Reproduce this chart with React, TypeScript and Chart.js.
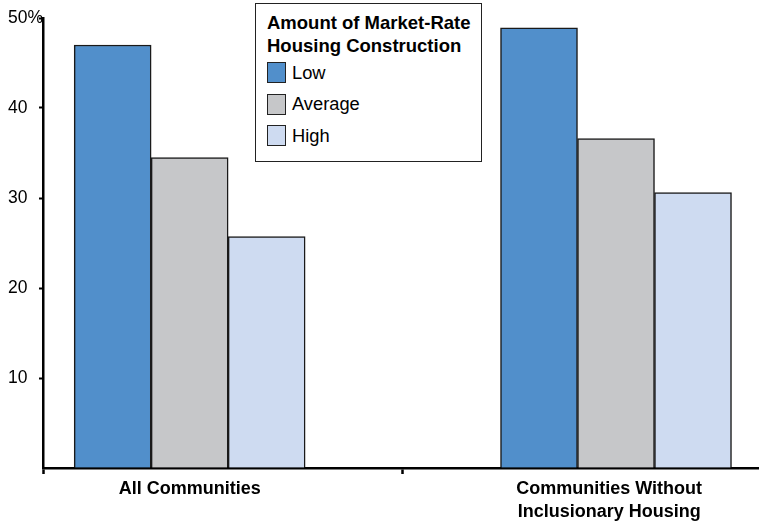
import React, { useEffect, useRef } from "react";
import { Chart, registerables } from "chart.js";

Chart.register(...registerables);

const categories: (string | string[])[] = [
  "All Communities",
  ["Communities Without", "Inclusionary Housing"],
];
const seriesNames = ["Low", "Average", "High"];
const lowValues = [47.0, 48.9];
const averageValues = [34.5, 36.6];
const highValues = [25.7, 30.6];
const yTickLabels: Record<number, string> = { 10: "10", 20: "20", 30: "30", 40: "40", 50: "50%" };
const legendTitle = ["Amount of Market-Rate", "Housing Construction"];

const colors = ["#518FCB", "#C6C7C9", "#CEDBF1"];
const FONT = "'Liberation Sans', Arial, Helvetica, sans-serif";

const X_MIN = -0.344;
const X_MAX = 1.3354;
const LABEL_POS = [0, 0.984];

export default function App() {
  const ref = useRef<HTMLCanvasElement>(null);

  useEffect(() => {
    const seriesValues = [lowValues, averageValues, highValues];
    const chart = new Chart(ref.current!, {
      type: "bar",
      data: {
        datasets: seriesNames.map((name, i) => ({
          label: name,
          data: seriesValues[i].map((v, j) => ({ x: j, y: v })),
          backgroundColor: colors[i],
          borderColor: "#1a1a1a",
          borderWidth: 1.5,
          borderSkipped: "bottom" as const,
          barThickness: 77,
        })),
      },
      options: {
        animation: false,
        responsive: false,
        layout: { padding: { left: 8, top: 18, right: 0, bottom: 0 } },
        plugins: { legend: { display: false }, tooltip: { enabled: false } },
        scales: {
          x: {
            type: "linear",
            min: X_MIN,
            max: X_MAX,
            offset: false,
            afterBuildTicks: (scale: any) => {
              scale.ticks = [
                { value: X_MIN },
                { value: LABEL_POS[0] },
                { value: 0.5 },
                { value: LABEL_POS[1] },
              ];
            },
            afterFit: (scale: any) => {
              scale.height = 59;
            },
            grid: {
              offset: false,
              drawOnChartArea: false,
              drawTicks: true,
              tickLength: 6,
              tickWidth: 2.5,
              tickColor: (ctx: any) =>
                ctx.tick && LABEL_POS.includes(ctx.tick.value) ? "rgba(0,0,0,0)" : "#000",
            },
            border: { display: true, color: "#000", width: 2.5 },
            ticks: {
              autoSkip: false,
              maxRotation: 0,
              padding: 3,
              color: "#000",
              font: { family: FONT, size: 18, weight: "bold", lineHeight: 1.3 },
              callback: (v: any) => {
                const idx = LABEL_POS.indexOf(Number(v));
                return idx >= 0 ? (categories[idx] as any) : "";
              },
            },
          },
          y: {
            min: 0,
            max: 50,
            afterFit: (scale: any) => {
              scale.width = 35;
            },
            grid: {
              drawOnChartArea: false,
              drawTicks: true,
              tickLength: 4,
              tickWidth: 2,
              tickColor: (ctx: any) => (ctx.tick && ctx.tick.value === 0 ? "rgba(0,0,0,0)" : "#000"),
            },
            border: { display: true, color: "#000", width: 2.5 },
            ticks: {
              stepSize: 10,
              crossAlign: "far",
              padding: 4,
              color: "#000",
              font: { family: FONT, size: 17.5 },
              callback: (v: any) => yTickLabels[Number(v)] ?? "",
            },
          },
        },
      },
    });
    return () => chart.destroy();
  }, []);

  return (
    <div style={{ position: "fixed", left: 0, top: 0, width: 759, height: 527, background: "#fff" }}>
      <canvas ref={ref} width={759} height={527} style={{ width: 759, height: 527, display: "block" }} />
      <div
        style={{
          position: "absolute",
          left: 255,
          top: 3,
          width: 227,
          height: 159,
          boxSizing: "border-box",
          border: "1.5px solid #222",
          background: "#fff",
          fontFamily: FONT,
          color: "#000",
          padding: "7px 0 0 11px",
        }}
      >
        <div style={{ fontWeight: "bold", fontSize: 18.5, lineHeight: "23px" }}>
          {legendTitle.map((t) => (
            <div key={t}>{t}</div>
          ))}
        </div>
        {seriesNames.map((name, i) => (
          <div key={name} style={{ display: "flex", alignItems: "center", height: 31.5, fontSize: 18.3 }}>
            <span
              style={{
                display: "inline-block",
                width: 19,
                height: 21,
                boxSizing: "border-box",
                border: "1.5px solid #222",
                background: colors[i],
                marginRight: 6,
              }}
            />
            <span>{name}</span>
          </div>
        ))}
      </div>
    </div>
  );
}
